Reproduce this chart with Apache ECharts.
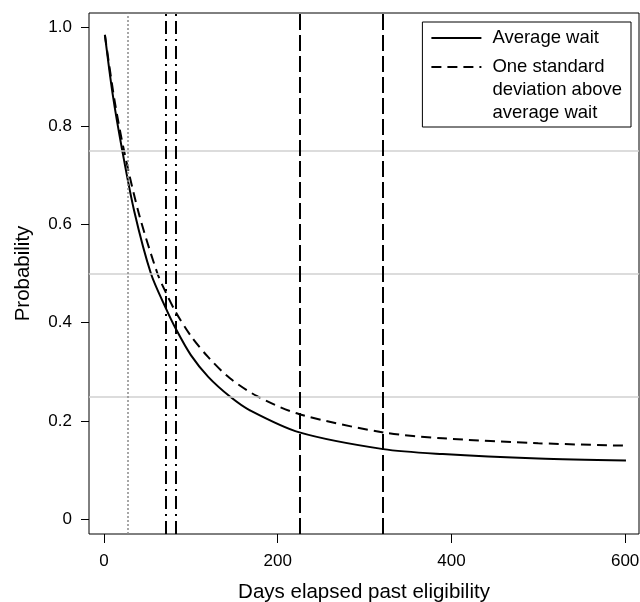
<!DOCTYPE html>
<html>
<head>
<meta charset="utf-8">
<script src="https://cdn.jsdelivr.net/npm/echarts@6/dist/echarts.min.js"></script>
<style>
  html, body { margin: 0; padding: 0; background: #fff; }
  #chart { width: 640px; height: 602px; }
</style>
</head>
<body>
<div id="chart"></div>
<script>
// ---- data ----
const avgDays   = [1, 10, 21, 35, 54, 71, 82.5, 100, 120, 145, 168, 225, 321.5, 390, 500, 601];
const avgProb   = [0.985, 0.864, 0.75, 0.625, 0.5, 0.43, 0.388, 0.334, 0.29, 0.25, 0.222, 0.177, 0.143, 0.133, 0.124, 0.12];
const sdDays    = [1, 12, 23, 40, 61.5, 71, 82.5, 100, 120, 145, 177, 225, 321.5, 390, 500, 601];
const sdProb    = [0.985, 0.853, 0.75, 0.6225, 0.5, 0.462, 0.422, 0.373, 0.33, 0.287, 0.25, 0.214, 0.177, 0.165, 0.155, 0.150];
const refProbLevels = [0.25, 0.5, 0.75];
const dottedDays    = [26.8];
const dashDotDays   = [71, 82.5];
const longDashDays  = [225, 321.5];
const xTicks = [0, 200, 400, 600];
const yTicks = [0, 0.2, 0.4, 0.6, 0.8, 1.0];
const seriesNames  = ['Average wait', 'One standard deviation above average wait'];
const legendLines  = [['Average wait'], ['One standard', 'deviation above', 'average wait']];
const xTitle = 'Days elapsed past eligibility';
const yTitle = 'Probability';

const FONT = '"Liberation Sans", Arial, Helvetica, sans-serif';
const zip = (a, b) => a.map((v, i) => [v, b[i]]);

const markData = [];
refProbLevels.forEach(v => markData.push({ yAxis: v, lineStyle: { color: '#d0d0d0', width: 1.5, type: 'solid' } }));
dottedDays.forEach(v => markData.push({ xAxis: v, lineStyle: { color: '#8a8a8a', width: 1.5, type: [2, 2] } }));
dashDotDays.forEach(v => markData.push({ xAxis: v, lineStyle: { color: '#000', width: 2, type: [13, 5, 2, 5] } }));
longDashDays.forEach(v => markData.push({ xAxis: v, lineStyle: { color: '#000', width: 2, type: [16, 5] } }));

const legendRich = { t: { fontFamily: FONT, fontSize: 18.5, lineHeight: 23, color: '#000' } };

const chart = echarts.init(document.getElementById('chart'), null, { renderer: 'canvas' });
chart.setOption({
  animation: false,
  backgroundColor: '#fff',
  grid: { left: 89, right: 1, top: 13, bottom: 68, containLabel: false, outerBoundsMode: 'none',
          show: true, borderColor: '#000', borderWidth: 1, backgroundColor: 'transparent' },
  xAxis: {
    type: 'value', min: -17.3, max: 616,
    name: xTitle, nameLocation: 'middle', nameGap: 48,
    nameTextStyle: { fontFamily: FONT, fontSize: 20.5, color: '#000' },
    axisLine: { show: false, onZero: false },
    splitLine: { show: false },
    axisTick: { show: true, inside: false, length: 9, customValues: xTicks, lineStyle: { color: '#000', width: 1 } },
    axisLabel: { customValues: xTicks, margin: 19, fontFamily: FONT, fontSize: 17, color: '#000' }
  },
  yAxis: {
    type: 'value', min: -0.0295, max: 1.0295,
    name: yTitle, nameLocation: 'middle', nameGap: 55,
    nameTextStyle: { fontFamily: FONT, fontSize: 20.5, color: '#000' },
    axisLine: { show: false, onZero: false },
    splitLine: { show: false },
    axisTick: { show: true, inside: false, length: 8, customValues: yTicks, lineStyle: { color: '#000', width: 1 } },
    axisLabel: { customValues: yTicks, margin: 17, fontFamily: FONT, fontSize: 17, color: '#000',
      formatter: v => (v === 0 ? '0' : v.toFixed(1)) }
  },
  legend: {
    orient: 'vertical', right: 9, top: 22,
    itemWidth: 50, itemHeight: 14, itemGap: 0,
    padding: [4.5, 9, 4.5, 8],
    borderColor: '#000', borderWidth: 1, backgroundColor: '#fff',
    selectedMode: false,
    itemStyle: { opacity: 0, borderWidth: 0 },
    textStyle: { fontFamily: FONT, fontSize: 18.5, lineHeight: 23, color: '#000' },
    data: [
      { name: seriesNames[0], textStyle: { padding: [0, 0, 0, 6] } },
      { name: seriesNames[1], textStyle: { padding: [6, 0, -40, 6], rich: legendRich } }
    ],
    formatter: n => {
      const i = seriesNames.indexOf(n);
      return i === 0 ? legendLines[0].join('\n') : legendLines[i].map(s => '{t|' + s + '}').join('\n');
    }
  },
  series: [
    {
      name: 'reference lines', type: 'line', data: [], silent: true,
      markLine: { silent: true, symbol: ['none', 'none'], label: { show: false }, animation: false, data: markData }
    },
    {
      name: seriesNames[0], type: 'line', data: zip(avgDays, avgProb),
      symbol: 'none', showSymbol: false, smooth: 0.3,
      lineStyle: { color: '#000', width: 2, type: 'solid' }, itemStyle: { color: '#000' }
    },
    {
      name: seriesNames[1], type: 'line', data: zip(sdDays, sdProb),
      symbol: 'none', showSymbol: false, smooth: 0.3,
      lineStyle: { color: '#000', width: 2, type: [10, 6] }, itemStyle: { color: '#000' }
    }
  ]
});
</script>
</body>
</html>
